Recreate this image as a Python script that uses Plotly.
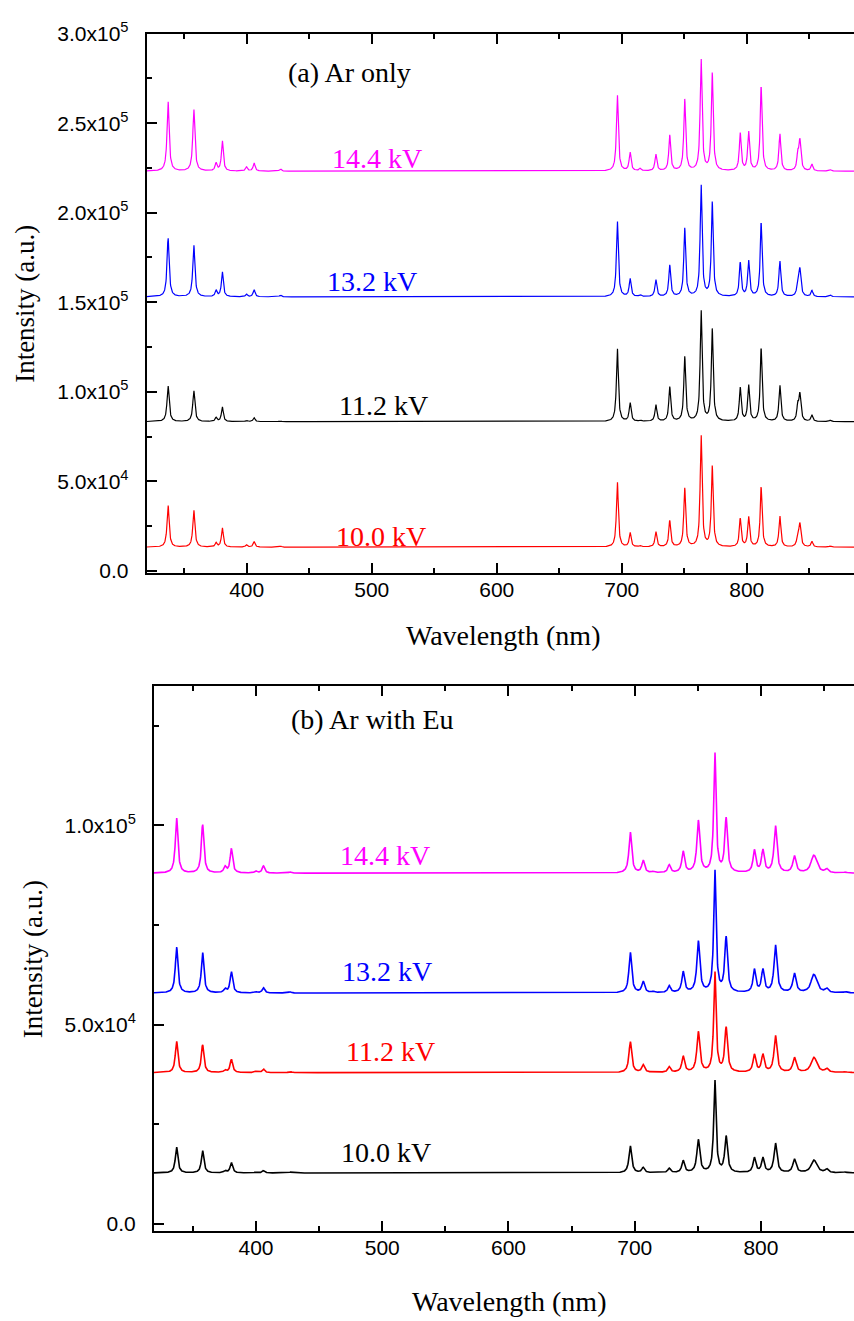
import numpy as np
import plotly.graph_objects as go

W, H = 854, 1321

# ---------------- data ----------------
# emission line positions (nm)
line_nm = [337.1, 357.7, 375.5, 380.5, 399.8, 405.9, 427.0, 696.5, 706.7, 714.7,
           727.3, 738.4, 750.4, 763.5, 772.4, 794.8, 801.5, 811.5, 826.5, 840.8,
           842.5, 852.1, 866.8]
# half widths (nm) of each line, panel (a) and panel (b)
hw_a = [1.0, 1.0, 0.9, 0.9, 0.9, 0.9, 0.9, 0.9, 0.9, 0.9, 0.9, 0.9, 0.9, 0.9,
        0.9, 0.9, 0.9, 0.9, 0.9, 0.8, 1.0, 0.9, 0.9]
hw_b = [1.2, 1.2, 1.2, 1.2, 1.2, 1.2, 1.2, 1.3, 1.3, 1.3, 1.3, 1.3, 1.4, 1.1,
        1.3, 1.3, 1.3, 1.4, 1.5, 1.8, 2.6, 1.5, 1.5]

voltages = ["14.4 kV", "13.2 kV", "11.2 kV", "10.0 kV"]

# ---- panel (a) Ar only : baselines and peak intensities (a.u.)
a_base = {"14.4 kV": 223200, "13.2 kV": 153000, "11.2 kV": 83300, "10.0 kV": 13200}
a_peak = {
    "14.4 kV": [262200, 257800, 227500, 240200, 225500, 227800, 224500, 266000, 233600, 224500,
                232500, 243000, 263000, 285700, 277500, 244000, 245000, 270000, 244000, 231000,
                240000, 227000, 224000],
    "13.2 kV": [185900, 182000, 156500, 167000, 154500, 157000, 154000, 195500, 163000, 154000,
                162500, 170500, 191000, 215500, 205500, 171800, 173000, 194000, 173000, 160000,
                168000, 156400, 154000],
    "11.2 kV": [103400, 100600, 85500, 91500, 84000, 85500, 83800, 124400, 93700, 84000,
                92600, 102500, 119300, 145500, 134600, 102000, 103500, 123900, 103500, 91000,
                98200, 86900, 84000],
    "10.0 kV": [36600, 33900, 15500, 24000, 14500, 16300, 13800, 49800, 21200, 14000,
                21800, 27800, 45900, 75800, 58000, 28900, 30000, 46500, 30600, 19000,
                25800, 16300, 13800],
}
a_color = {"14.4 kV": "#FF00FF", "13.2 kV": "#0000FF", "11.2 kV": "#000000", "10.0 kV": "#FF0000"}

# ---- panel (b) Ar with Eu
b_base = {"14.4 kV": 88000, "13.2 kV": 57900, "11.2 kV": 37900, "10.0 kV": 12700}
b_peak = {
    "14.4 kV": [101900, 100200, 89500, 94000, 88500, 89800, 88300, 98300, 91100, 88300,
                90000, 93300, 101000, 118100, 101500, 93600, 93600, 99800, 92200, 89500,
                91500, 88900, 88200],
    "13.2 kV": [69500, 68100, 58800, 63200, 58200, 59200, 58200, 68100, 60700, 58200,
                59600, 63100, 70700, 88600, 71600, 63600, 63600, 69800, 62700, 59500,
                61500, 58900, 58200],
    "11.2 kV": [45800, 44900, 38500, 41200, 38200, 38800, 38200, 45700, 39800, 38100,
                39300, 41900, 48000, 63100, 49000, 42300, 42300, 47100, 41600, 39300,
                40800, 38800, 38100],
    "10.0 kV": [19200, 18300, 13200, 15300, 12900, 13300, 12900, 19500, 14000, 12900,
                13800, 15700, 20900, 35900, 21700, 16400, 16400, 20100, 16100, 13800,
                15200, 13600, 12900],
}
b_color = {"14.4 kV": "#FF00FF", "13.2 kV": "#0000FF", "11.2 kV": "#FF0000", "10.0 kV": "#000000"}

# axis ticks
x_major = [400, 500, 600, 700, 800]
x_minor = [350, 450, 550, 650, 750, 850]
ya_major = [0, 50000, 100000, 150000, 200000, 250000, 300000]
ya_text = ["0.0", "5.0x10<sup>4</sup>", "1.0x10<sup>5</sup>", "1.5x10<sup>5</sup>",
           "2.0x10<sup>5</sup>", "2.5x10<sup>5</sup>", "3.0x10<sup>5</sup>"]
ya_minor = [25000, 75000, 125000, 175000, 225000, 275000]
yb_major = [0, 50000, 100000]
yb_text = ["0.0", "5.0x10<sup>4</sup>", "1.0x10<sup>5</sup>"]
yb_minor = [25000, 75000, 125000]


def spectrum(wl, base, peaks, hws):
    y = np.full_like(wl, float(base))
    for c, p, g in zip(line_nm, peaks, hws):
        y += (p - base) * g * g / ((wl - c) ** 2 + g * g)
    return y


wl_a = np.arange(320.0, 886.0, 0.2)
wl_b = np.arange(319.0, 874.0, 0.2)

fig = go.Figure()
for v in voltages:
    fig.add_trace(go.Scatter(x=wl_a, y=spectrum(wl_a, a_base[v], a_peak[v], hw_a),
                             mode="lines", line=dict(color=a_color[v], width=1.2),
                             name=v, showlegend=False, xaxis="x", yaxis="y"))
for v in voltages:
    fig.add_trace(go.Scatter(x=wl_b, y=spectrum(wl_b, b_base[v], b_peak[v], hw_b),
                             mode="lines", line=dict(color=b_color[v], width=1.6),
                             name=v, showlegend=False, xaxis="x2", yaxis="y2"))

tickfont = dict(family="Liberation Sans, Arial, sans-serif", size=21, color="black")
serif = "Liberation Serif, Times New Roman, serif"


def px(xp):
    return xp / W


def py(yp):
    return 1 - yp / H


common_x = dict(showline=True, linecolor="black", linewidth=2, mirror="ticks",
                ticks="inside", ticklen=10, tickwidth=1.6, tickcolor="black",
                tickvals=x_major, ticktext=[str(v) for v in x_major],
                minor=dict(tickvals=x_minor, ticks="inside", ticklen=5, tickwidth=1.6,
                           tickcolor="black"),
                showgrid=False, zeroline=False, tickfont=tickfont, ticklabelstandoff=-4)
common_y = dict(showline=True, linecolor="black", linewidth=2, mirror=False,
                ticks="inside", ticklen=10, tickwidth=1.6, tickcolor="black",
                showgrid=False, zeroline=False, tickfont=tickfont, ticklabelstandoff=12)

fig.update_layout(
    width=W, height=H, margin=dict(l=0, r=0, t=0, b=0, pad=0), autosize=False,
    paper_bgcolor="white", plot_bgcolor="white", showlegend=False,
    xaxis=dict(domain=[px(146.7), 1], range=[320, 885.8], anchor="y", **common_x),
    yaxis=dict(domain=[py(569.3), py(20)], range=[-1430, 300000], anchor="x",
               tickvals=ya_major, ticktext=ya_text,
               minor=dict(tickvals=ya_minor, ticks="inside", ticklen=5, tickwidth=1.6,
                          tickcolor="black"), **common_y),
    xaxis2=dict(domain=[px(154), 1], range=[319.2, 873.7], anchor="y2", **common_x),
    yaxis2=dict(domain=[py(1239), py(684)], range=[-1975, 135000], anchor="x2",
                tickvals=yb_major, ticktext=yb_text,
                minor=dict(tickvals=yb_minor, ticks="inside", ticklen=5, tickwidth=1.6,
                           tickcolor="black"), **common_y),
)

ann = []


def text(t, xp, yp, color="black", size=28, angle=0):
    ann.append(dict(text=t, x=px(xp), y=py(yp), xref="paper", yref="paper",
                    xanchor="center", yanchor="middle", showarrow=False, textangle=angle,
                    font=dict(family=serif, size=size, color=color)))


# axis titles
text("Wavelength (nm)", 503, 633)
text("Wavelength (nm)", 509, 1310)
text("Intensity (a.u.)", 25, 295, size=27, angle=-90)
text("Intensity (a.u.)", 33, 962, size=27, angle=-90)
# panel labels
text("(a) Ar only", 349, 60)
text("(b) Ar with Eu", 372, 718)
# series labels
a_lab_pos = {"14.4 kV": (377, 147), "13.2 kV": (372, 272), "11.2 kV": (383, 398), "10.0 kV": (381, 532)}
b_lab_pos = {"14.4 kV": (385, 856), "13.2 kV": (387, 974), "11.2 kV": (390, 1056), "10.0 kV": (386, 1159)}
for v in voltages:
    text(v, *a_lab_pos[v], color=a_color[v])
    text(v, *b_lab_pos[v], color=b_color[v])

fig.update_layout(annotations=ann)
fig.write_html("out.html", config={"displayModeBar": False},
               post_script="document.body.style.margin='0';document.body.style.overflow='hidden';")
